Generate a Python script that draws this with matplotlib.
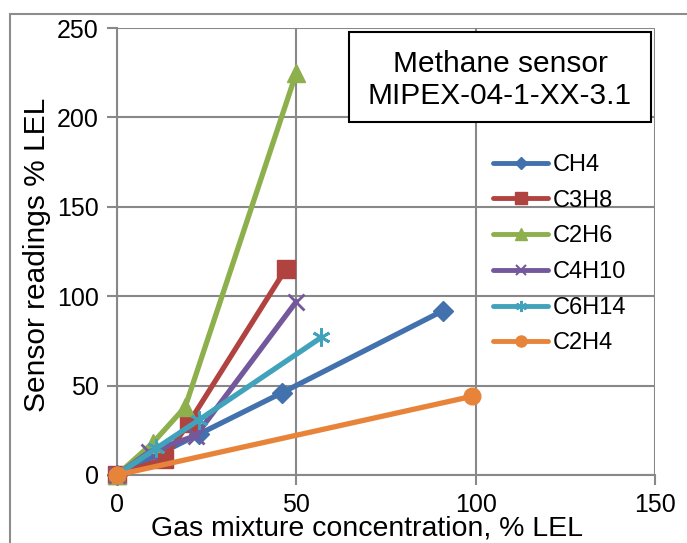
import matplotlib
matplotlib.use("Agg")
import matplotlib.pyplot as plt
from matplotlib.lines import Line2D
from matplotlib.patches import Rectangle

plt.rcParams['font.family'] = ['Liberation Sans', 'DejaVu Sans']

series_names = ["CH4", "C3H8", "C2H6", "C4H10", "C6H14", "C2H4"]
ch4_x = [0, 23, 46, 91]
ch4_y = [0, 23, 46, 92]
c3h8_x = [0, 13, 20, 47]
c3h8_y = [0, 9, 29, 115]
c2h6_x = [0, 10, 19, 50]
c2h6_y = [0, 18, 38, 225]
c4h10_x = [0, 9, 22, 50]
c4h10_y = [0, 13, 22, 97]
c6h14_x = [0, 11, 23, 57]
c6h14_y = [0, 15, 31, 77]
c2h4_x = [0, 99]
c2h4_y = [0, 44]

xs = [ch4_x, c3h8_x, c2h6_x, c4h10_x, c6h14_x, c2h4_x]
ys = [ch4_y, c3h8_y, c2h6_y, c4h10_y, c6h14_y, c2h4_y]

x_ticks = [0, 50, 100, 150]
y_ticks = [0, 50, 100, 150, 200, 250]

colors = ['#4371AD', '#B0433F', '#8DAF4C', '#73589B', '#40A2BB', '#E8843A']
markers = ['D', 's', '^', 'x', (6, 2, 0), 'o']
msizes = [10, 13, 13, 12, 13, 12]
leg_msizes = [6, 8, 8, 7, 8, 8]

W, H = 687, 543
fig = plt.figure(figsize=(W / 100, H / 100), dpi=100)

# outer chart border
fig.patches.append(Rectangle((10 / W, -0.1), 1.2, 1 - 14 / H + 0.1,
                             transform=fig.transFigure, fill=False,
                             edgecolor='#8C8C8C', linewidth=1.5))

L, R, T, B = 117, 655, 28, 475
ax = fig.add_axes([L / W, 1 - B / H, (R - L) / W, (B - T) / H])

grid_c = '#888888'
for i, (x, y) in enumerate(zip(xs, ys)):
    ax.plot(x, y, color=colors[i], linewidth=3.8, marker=markers[i],
            markersize=msizes[i], markeredgewidth=2 if i in (3, 4) else 1,
            markeredgecolor=colors[i], zorder=3 + i, clip_on=False,
            solid_capstyle='round')

ax.set_xlim(0, 150)
ax.set_ylim(0, 250)
ax.set_xticks(x_ticks)
ax.set_yticks(y_ticks)
ax.grid(True, color=grid_c, linewidth=1.5)
ax.set_axisbelow(True)
for s in ['top', 'right']:
    ax.spines[s].set_visible(False)
for s in ['left', 'bottom']:
    ax.spines[s].set_color(grid_c)
    ax.spines[s].set_linewidth(1.5)
ax.tick_params(direction='out', length=7, width=1.5, color=grid_c,
               labelsize=18, pad=6)

ax.set_xlabel("Gas mixture concentration, % LEL", fontsize=20.5)
ax.xaxis.set_label_coords(0.465, -0.1480)
ax.xaxis.label.set_va('bottom')
ax.set_ylabel("Sensor readings % LEL", fontsize=21.5)
ax.yaxis.set_label_coords(-0.148, 0.492)
ax.yaxis.label.set_va('center')

# title box
fig.patches.append(Rectangle((349 / W, 1 - 122 / H), (651 - 349) / W, (122 - 32) / H,
                             transform=fig.transFigure, facecolor='white',
                             edgecolor='black', linewidth=1.5, zorder=20))
fig.text(500 / W, 1 - 80 / H, "Methane sensor\nMIPEX-04-1-XX-3.1",
         ha='center', va='center', fontsize=21.5, linespacing=1.15, zorder=21)

handles = [Line2D([0], [0], color=colors[i], linewidth=3.5, marker=markers[i],
                  markersize=leg_msizes[i], markeredgecolor=colors[i],
                  markeredgewidth=1.5 if i in (3, 4) else 1,
                  solid_capstyle='round')
           for i in range(6)]
leg = fig.legend(handles, series_names, loc='upper left',
                 bbox_to_anchor=(493 / W, 1 - 154 / H), frameon=False,
                 fontsize=17, handlelength=2.35, handletextpad=0.2,
                 labelspacing=0.58, borderpad=0, borderaxespad=0)

fig.savefig("out.png", dpi=100)
